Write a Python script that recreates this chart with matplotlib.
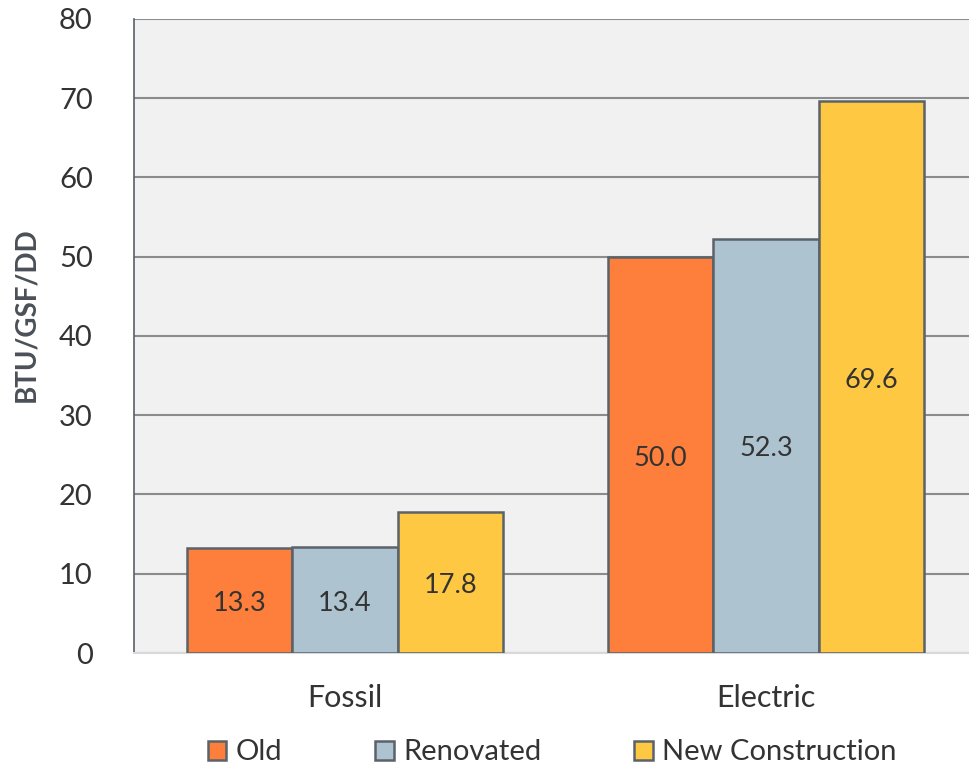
import numpy as np
import matplotlib.pyplot as plt

plt.rcParams['font.family'] = ['Lato', 'DejaVu Sans']

categories = ["Fossil", "Electric"]
series_names = ["Old", "Renovated", "New Construction"]
old = [13.3, 50.0]
renovated = [13.4, 52.3]
new_construction = [17.8, 69.6]
y_ticks = [0, 10, 20, 30, 40, 50, 60, 70, 80]

colors = ["#fe7f3c", "#aec3d0", "#ffc843"]
edge = "#5a626a"
text_color = "#333333"

fig = plt.figure(figsize=(9.69, 7.65), dpi=100)
ax = fig.add_axes([0.1388, 0.1464, 0.8689, 0.8288])
ax.set_facecolor("#f1f1f1")

x = np.arange(len(categories))
width = 0.25
series = [old, renovated, new_construction]
for i, (name, vals) in enumerate(zip(series_names, series)):
    bars = ax.bar(x + (i - 1) * width, vals, width, color=colors[i],
                  edgecolor=edge, linewidth=1.8, label=name, zorder=3)
    for b, v in zip(bars, vals):
        ax.text(b.get_x() + b.get_width() / 2, v / 2 - 0.4, f"{v:.1f}",
                ha="center", va="center", fontsize=19.5, color=text_color, zorder=4)

ax.set_xlim(-0.5, 1.5)
ax.set_ylim(0, 80)
ax.set_yticks(y_ticks)
ax.set_xticks(x)
ax.set_xticklabels(categories)
ax.tick_params(axis="y", length=0, pad=30, labelsize=21, labelcolor=text_color)
ax.tick_params(axis="x", length=0, pad=22, labelsize=22, labelcolor=text_color)
ax.yaxis.grid(True, color="#8c8c8c", linewidth=1.5, zorder=0)
ax.set_axisbelow(True)

for s in ["top", "right"]:
    ax.spines[s].set_visible(False)
ax.spines["left"].set_color("#5a6068")
ax.spines["left"].set_linewidth(1.2)
ax.spines["bottom"].set_color("#d9d9d9")
ax.spines["bottom"].set_linewidth(1.5)

ax.set_ylabel("BTU/GSF/DD", fontsize=20, fontweight="bold", color="#4a5057")
ax.yaxis.set_label_coords(-0.113, 0.533)

leg = ax.legend(loc="upper center", bbox_to_anchor=(0.496, -0.095), ncol=3, frameon=False,
                fontsize=21, handlelength=0.65, handleheight=0.65, handletextpad=0.3,
                columnspacing=3.2)
for t in leg.get_texts():
    t.set_color(text_color)

fig.savefig("out.png", dpi=100)
